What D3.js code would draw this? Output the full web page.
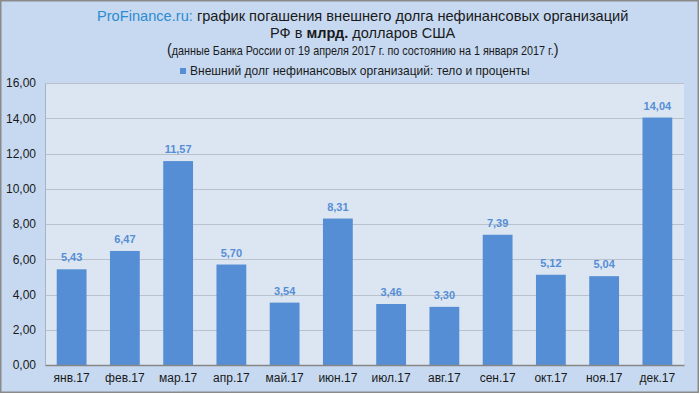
<!DOCTYPE html>
<html lang="ru">
<head>
<meta charset="UTF-8">
<title>Внешний долг нефинансовых организаций</title>
<script src="https://d3js.org/d3.v7.min.js"></script>
<style>
    body { margin: 0; background: #fff; }
    svg { display: block; font-family: Arial, "Liberation Sans", sans-serif; }
</style>
</head>
<body>
<div id="chart"></div>
<script>
    // data
    const months = ["янв.17", "фев.17", "мар.17", "апр.17", "май.17", "июн.17",
                    "июл.17", "авг.17", "сен.17", "окт.17", "ноя.17", "дек.17"];
    const values = [5.43, 6.47, 11.57, 5.70, 3.54, 8.31, 3.46, 3.30, 7.39, 5.12, 5.04, 14.04];
    const yTicks = [0, 2, 4, 6, 8, 10, 12, 14, 16];
    const seriesName = "Внешний долг нефинансовых организаций: тело и проценты";

    const width = 700, height = 394;
    const margin = {top: 83, right: 16, bottom: 29, left: 45};
    const fmt = v => d3.format(".2f")(v).replace(".", ",");

    const svg = d3.select("#chart").append("svg")
        .attr("width", width)
        .attr("height", height);

    // squeeze/stretch a start-anchored text so it spans [left, right]
    function fit(sel, left, right, baseline) {
        const w = sel.node().getBBox().width;
        sel.attr("x", 0).attr("y", 0)
            .attr("transform", `translate(${left},${baseline}) scale(${(right - left) / w},1)`);
    }

    // outer background + frame
    svg.append("rect")
        .attr("x", 0.75).attr("y", 0.75)
        .attr("width", width - 2.5).attr("height", height - 2.5)
        .attr("fill", "#c6d9f1")
        .attr("stroke", "#8a8a8a")
        .attr("stroke-width", 1.5);

    const x = d3.scaleBand()
        .domain(months)
        .range([margin.left, width - margin.right])
        .paddingInner(0.44)
        .paddingOuter(0.22);

    const y = d3.scaleLinear()
        .domain([0, 16])
        .range([height - margin.bottom, margin.top]);

    // plot area
    svg.append("rect")
        .attr("x", margin.left)
        .attr("y", margin.top)
        .attr("width", width - margin.left - margin.right)
        .attr("height", height - margin.top - margin.bottom)
        .attr("fill", "#dce6f2");

    // gridlines
    svg.append("g")
        .selectAll("line")
        .data(yTicks.filter(d => d > 0))
        .enter().append("line")
        .attr("x1", margin.left)
        .attr("x2", width - margin.right)
        .attr("y1", d => Math.round(y(d)) + 0.5)
        .attr("y2", d => Math.round(y(d)) + 0.5)
        .attr("stroke", "#b9c1cc")
        .attr("stroke-width", 1);

    // y axis
    const yAxis = svg.append("g")
        .attr("transform", `translate(${margin.left},0)`)
        .call(d3.axisLeft(y).tickValues(yTicks).tickFormat(fmt).tickSize(0).tickPadding(9));
    yAxis.select(".domain").attr("stroke", "#a6b3c4");
    yAxis.selectAll("text")
        .style("font-size", "12px")
        .attr("fill", "#1a1a1a");

    // bars
    svg.append("g")
        .selectAll("rect")
        .data(values)
        .enter().append("rect")
        .attr("x", (d, i) => x(months[i]))
        .attr("y", d => y(d))
        .attr("width", x.bandwidth())
        .attr("height", d => y(0) - y(d))
        .attr("fill", "#558ed5");

    // value labels
    svg.append("g")
        .selectAll("text")
        .data(values)
        .enter().append("text")
        .attr("x", (d, i) => x(months[i]) + x.bandwidth() / 2)
        .attr("y", d => y(d) - 8)
        .attr("text-anchor", "middle")
        .attr("fill", "#558ed5")
        .style("font-size", "11px")
        .style("font-weight", "bold")
        .text(fmt);

    // x axis
    const xAxis = svg.append("g")
        .attr("transform", `translate(0,${height - margin.bottom})`)
        .call(d3.axisBottom(x).tickSize(0).tickPadding(8));
    xAxis.select(".domain").attr("stroke", "#868686").attr("stroke-width", 1.5);
    xAxis.selectAll("text")
        .style("font-size", "12px")
        .attr("fill", "#1a1a1a");

    // title
    const t1 = svg.append("text")
        .style("font-size", "14.5px")
        .attr("fill", "#1a1a1a");
    t1.append("tspan").attr("fill", "#2e8bd0").text("ProFinance.ru:");
    t1.append("tspan").text(" график погашения внешнего долга нефинансовых организаций");
    fit(t1, 97, 629, 21);

    const t2 = svg.append("text")
        .style("font-size", "15.5px")
        .attr("fill", "#1a1a1a");
    t2.append("tspan").text("РФ в ");
    t2.append("tspan").style("font-weight", "bold").text("млрд.");
    t2.append("tspan").text(" долларов США");
    fit(t2, 270, 456, 38);

    const t3 = svg.append("text")
        .attr("fill", "#1a1a1a")
        .style("font-size", "12px");
    t3.append("tspan").style("font-size", "16px").text("(");
    t3.append("tspan").text("данные Банка России от 19 апреля 2017 г. по состоянию на 1 января 2017 г.");
    t3.append("tspan").style("font-size", "16px").text(")");
    fit(t3, 167, 559, 55);

    // legend
    svg.append("rect")
        .attr("x", 180).attr("y", 68)
        .attr("width", 6).attr("height", 6)
        .attr("fill", "#558ed5");
    const lg = svg.append("text")
        .attr("fill", "#1a1a1a")
        .style("font-size", "12.5px")
        .text(seriesName);
    fit(lg, 190, 530, 75);
</script>
</body>
</html>
